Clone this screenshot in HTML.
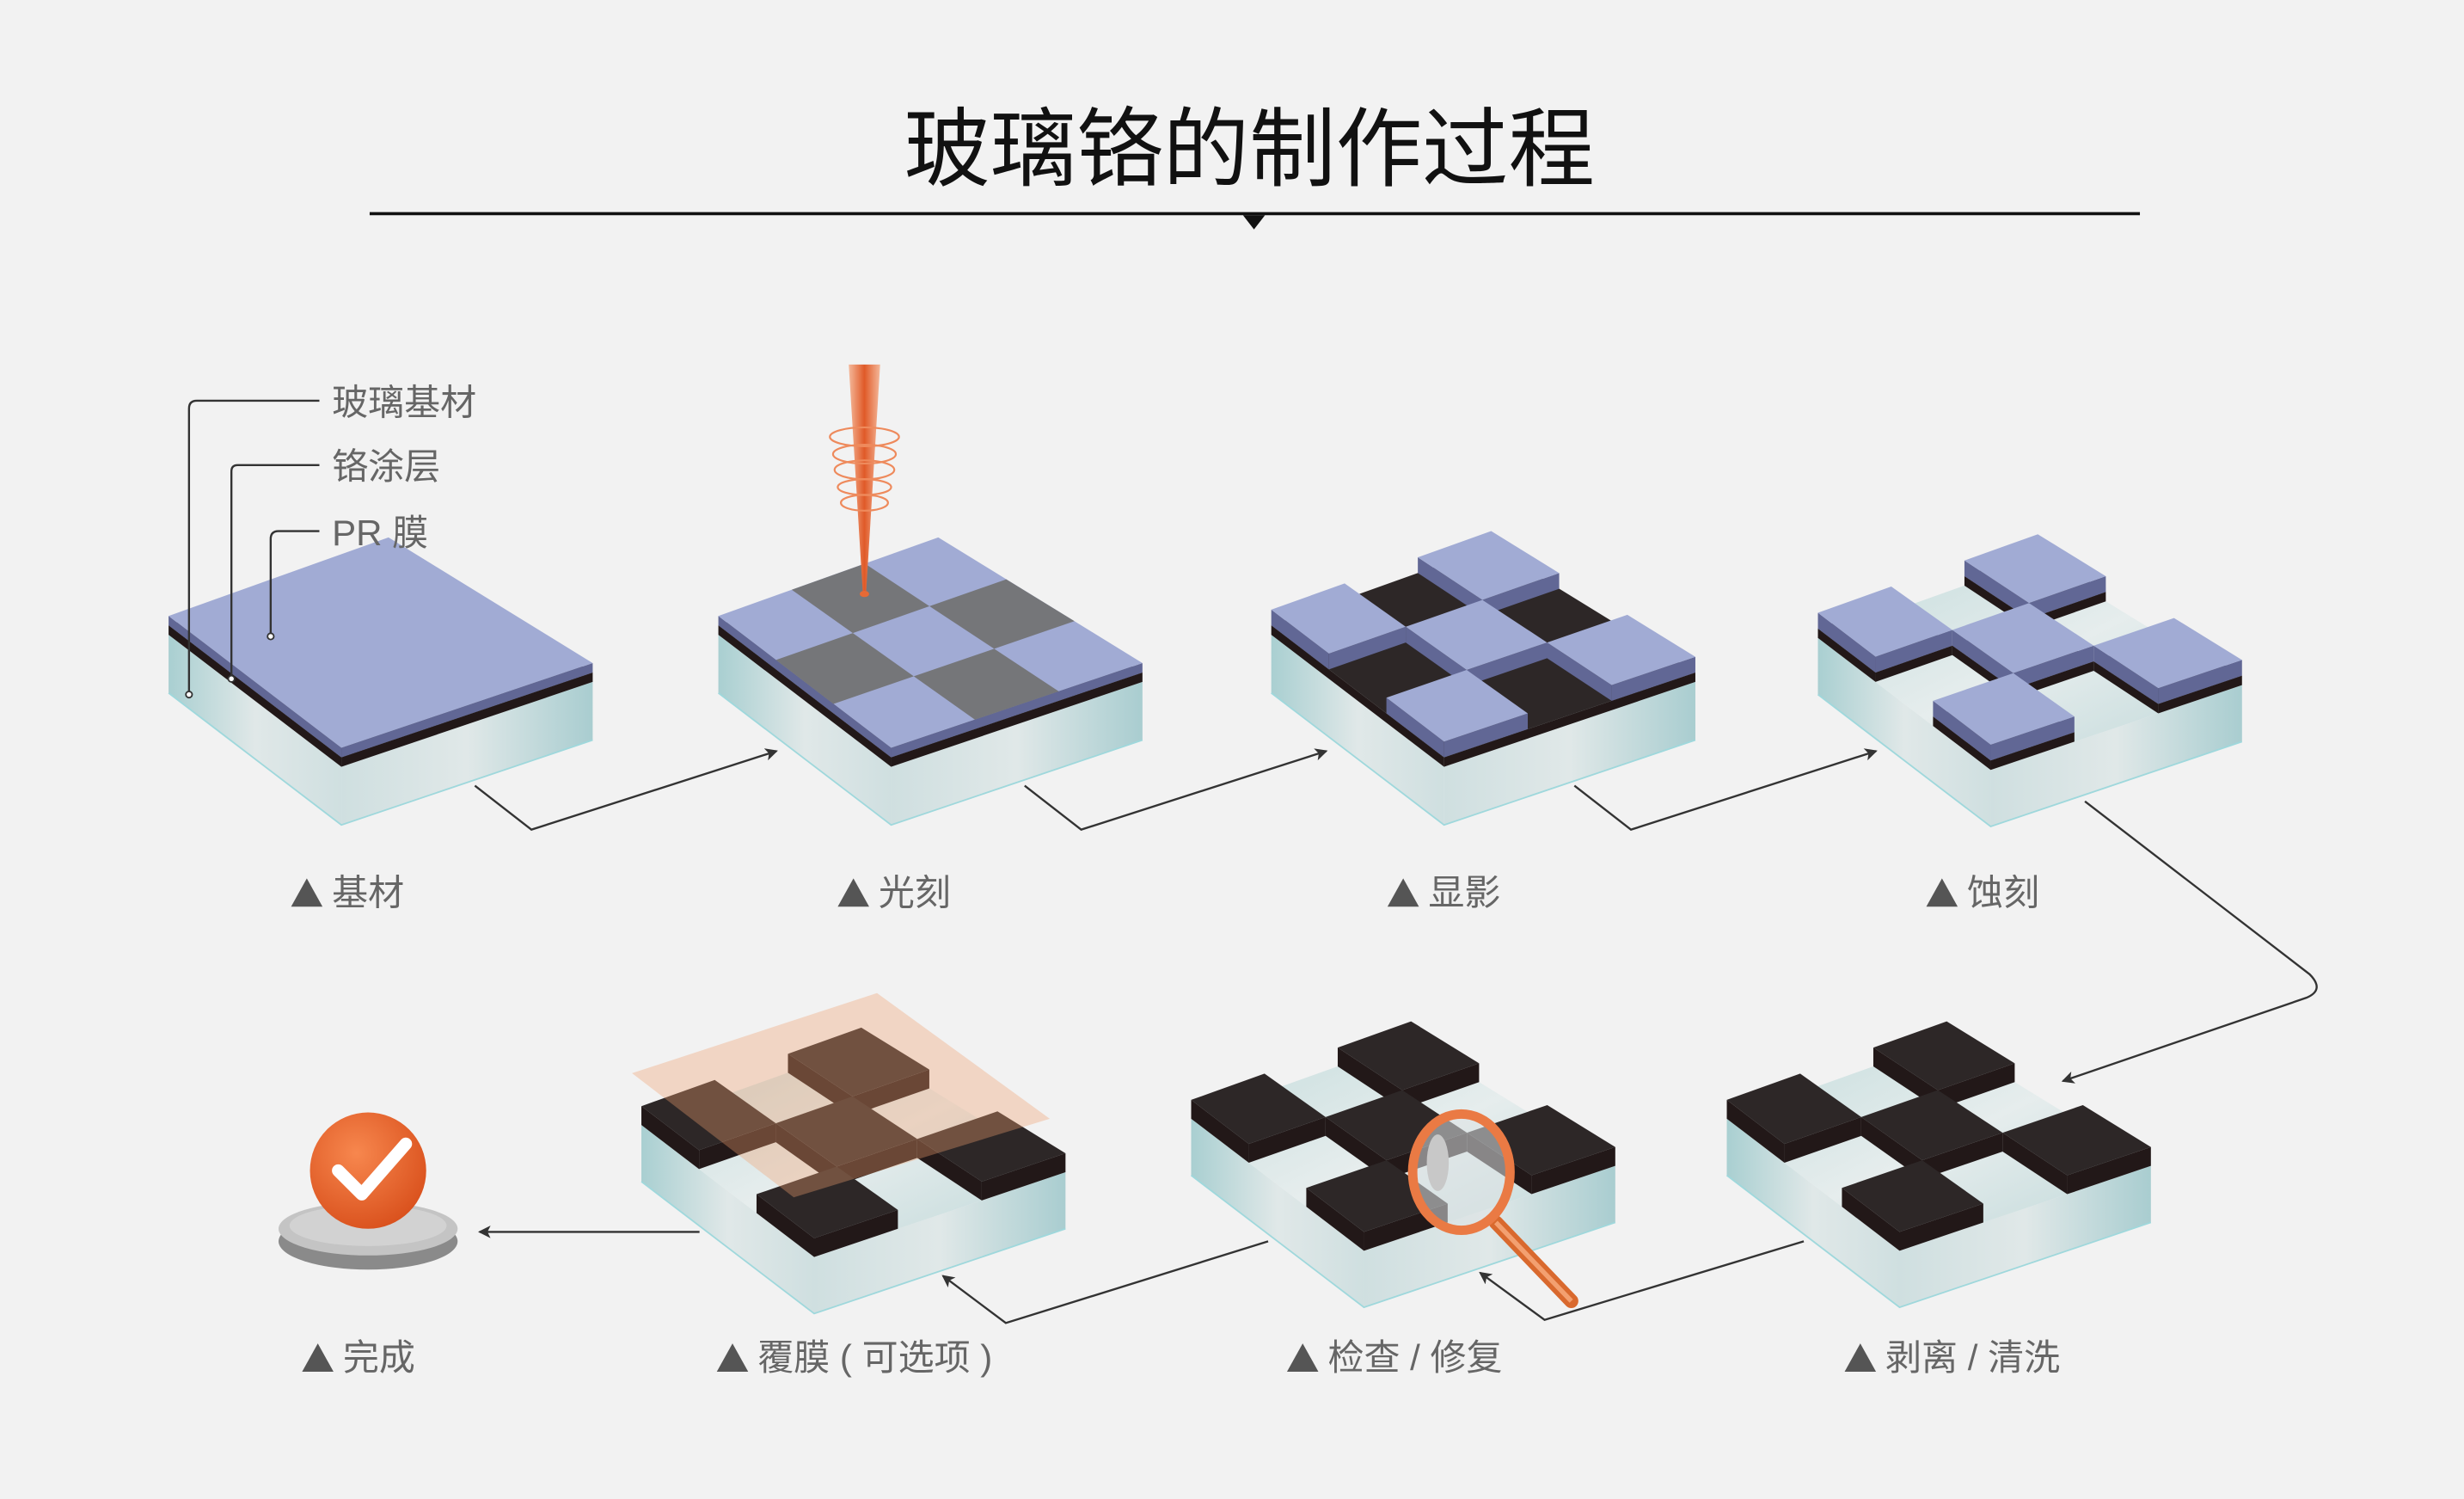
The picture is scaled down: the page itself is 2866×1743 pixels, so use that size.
<!DOCTYPE html>
<html><head><meta charset="utf-8"><style>
html,body{margin:0;padding:0;background:#f2f2f2;}
svg{display:block}
text{font-family:"Liberation Sans","Noto Sans CJK SC",sans-serif;}
</style></head><body>
<svg id="s" width="2866" height="1743" viewBox="0 0 1568 954" xmlns="http://www.w3.org/2000/svg">
<defs>
<linearGradient id="gl" x1="0" y1="0" x2="1" y2="0"><stop offset="0" stop-color="#a9cfd1"/><stop offset="0.5" stop-color="#e0e8e8"/><stop offset="1" stop-color="#cfdfe0"/></linearGradient>
<linearGradient id="gr" x1="0" y1="0" x2="1" y2="0"><stop offset="0" stop-color="#cfdfe0"/><stop offset="0.5" stop-color="#e0e8e8"/><stop offset="1" stop-color="#a9cdd0"/></linearGradient>
<linearGradient id="gt" x1="0" y1="0" x2="1" y2="1"><stop offset="0" stop-color="#c4dcdc"/><stop offset="0.5" stop-color="#e6eded"/><stop offset="1" stop-color="#bcd6d7"/></linearGradient>
<linearGradient id="beam" x1="0" y1="0" x2="1" y2="0"><stop offset="0" stop-color="#f4b89a"/><stop offset="0.5" stop-color="#e05a28"/><stop offset="1" stop-color="#f4b89a"/></linearGradient>
<radialGradient id="ball" cx="0.4" cy="0.35" r="0.7"><stop offset="0" stop-color="#f7874e"/><stop offset="1" stop-color="#d9501c"/></radialGradient>
<marker id="ar" markerWidth="8" markerHeight="8" refX="7" refY="4" orient="auto" markerUnits="userSpaceOnUse"><path d="M0,0 L8,4 L0,8 L2,4 z" fill="#333"/></marker>
</defs>
<rect width="1568" height="954" fill="#f2f2f2"/>
<g id="blocks"></g>
<!-- title -->
<text x="795" y="114" font-size="55" text-anchor="middle" fill="#111">玻璃铬的制作过程</text>
<line x1="235" y1="136" x2="1362" y2="136" stroke="#111" stroke-width="2"/>
<path d="M791,137 L805,137 L798,146 z" fill="#111"/>
<!-- legend -->
<g fill="none" stroke="#333" stroke-width="1.3">
<path d="M203,255 H125 Q120,255 120,260 V442"/>
<path d="M203,296 H151 Q147,296 147,300 V432"/>
<path d="M203,338 H177 Q172,338 172,343 V405"/>
</g>
<g fill="#fff" stroke="#333" stroke-width="1"><circle cx="120" cy="442" r="2"/><circle cx="147" cy="432" r="2"/><circle cx="172" cy="405" r="2"/></g>
<g font-size="23" fill="#666">
<text x="211" y="264">玻璃基材</text><text x="211" y="305">铬涂层</text><text x="211" y="347">PR 膜</text>
</g>
<!-- laser -->
<path d="M540,232 L560,232 L551,378 L549,378 z" fill="url(#beam)"/>
<g fill="none" stroke="#ee8a5c" stroke-width="1.2">
<ellipse cx="550" cy="278" rx="22" ry="6"/><ellipse cx="550" cy="289" rx="20" ry="6"/><ellipse cx="550" cy="299" rx="19" ry="6"/><ellipse cx="550" cy="310" rx="17" ry="5"/><ellipse cx="550" cy="320" rx="15" ry="5"/>
</g>
<ellipse cx="550" cy="378" rx="3" ry="2" fill="#e66a36"/>
<!-- connectors -->
<g fill="none" stroke="#333" stroke-width="1.3">
<path d="M302,500 L338,528 L494,478" marker-end="url(#ar)"/>
<path d="M652,500 L688,528 L844,478" marker-end="url(#ar)"/>
<path d="M1002,500 L1038,528 L1194,478" marker-end="url(#ar)"/>
<path d="M1327,510 L1470,620 Q1480,630 1468,635 L1313,688" marker-end="url(#ar)"/>
<path d="M1148,790 L983,840 L942,810" marker-end="url(#ar)"/>
<path d="M807,790 L640,842 L600,812" marker-end="url(#ar)"/>
<path d="M445,784 L305,784" marker-end="url(#ar)"/>
</g>
<!-- step labels -->
<g fill="#555">
<path d="M185,577 L195,559 L205,577 z"/><path d="M533,577 L543,559 L553,577 z"/><path d="M883,577 L893,559 L903,577 z"/><path d="M1226,577 L1236,559 L1246,577 z"/>
<path d="M192,873 L202,855 L212,873 z"/><path d="M456,873 L466,855 L476,873 z"/><path d="M819,873 L829,855 L839,873 z"/><path d="M1174,873 L1184,855 L1194,873 z"/>
</g>
<g font-size="23" fill="#666">
<text x="211" y="576">基材</text><text x="559" y="576">光刻</text><text x="909" y="576">显影</text><text x="1252" y="576">蚀刻</text>
<text x="218" y="872">完成</text><text x="482" y="872">覆膜 ( 可选项 )</text><text x="845" y="872">检查 / 修复</text><text x="1200" y="872">剥离 / 清洗</text>
</g>
<!-- done icon -->
<ellipse cx="234" cy="790" rx="57" ry="18" fill="#8a8a8a"/>
<ellipse cx="234" cy="782" rx="57" ry="17" fill="#c4c4c4"/>
<ellipse cx="234" cy="780" rx="50" ry="13" fill="#d2d2d2"/>
<circle cx="234" cy="745" r="37" fill="url(#ball)"/>
<path d="M215,745 L230,760 L258,728" fill="none" stroke="#fff" stroke-width="8" stroke-linecap="round" stroke-linejoin="round"/>
<g id="over"></g>
</svg>
<script>
var NS="http://www.w3.org/2000/svg";
var G=document.getElementById("blocks"),O=document.getElementById("over");
function poly(g,pts,fill,op){var p=document.createElementNS(NS,"polygon");p.setAttribute("points",pts.map(function(a){return a[0].toFixed(1)+","+a[1].toFixed(1)}).join(" "));p.setAttribute("fill",fill);if(op)p.setAttribute("opacity",op);g.appendChild(p);}
var L=[0,0],B=[140,-50],R=[270,30],F=[110,84];
function P(ox,oy,u,v,dy){var x=L[0]*(1-u)*(1-v)+B[0]*u*(1-v)+R[0]*u*v+F[0]*(1-u)*v;var y=L[1]*(1-u)*(1-v)+B[1]*u*(1-v)+R[1]*u*v+F[1]*(1-u)*v;return [ox+x,oy+y-(dy||0)];}
function prism(g,ox,oy,u0,u1,v0,v1,zb,zt,top,side1,side2){
 poly(g,[P(ox,oy,u0,v0,zt),P(ox,oy,u0,v1,zt),P(ox,oy,u0,v1,zb),P(ox,oy,u0,v0,zb)],side1);
 poly(g,[P(ox,oy,u0,v1,zt),P(ox,oy,u1,v1,zt),P(ox,oy,u1,v1,zb),P(ox,oy,u0,v1,zb)],side2);
 poly(g,[P(ox,oy,u0,v0,zt),P(ox,oy,u1,v0,zt),P(ox,oy,u1,v1,zt),P(ox,oy,u0,v1,zt)],top);
}
function cells(f){var a=[];for(var i=0;i<3;i++)for(var j=0;j<3;j++)a.push([i,j]);a.sort(function(p,q){return (q[0]-q[1])-(p[0]-p[1]);});a.forEach(function(c){f(c[0],c[1]);});}
var PT="#a1abd4",PS="#616795",BT="#2d2727",BS="#221818",GR="#757679";
function glass(g,ox,oy,h){prism(g,ox,oy,0,1,0,1,-h,0,"url(#gt)","url(#gl)","url(#gr)");
 var e=document.createElementNS(NS,"polyline");e.setAttribute("points",[P(ox,oy,0,0,-h),P(ox,oy,0,1,-h),P(ox,oy,1,1,-h)].map(function(a){return a.join(",")}).join(" "));e.setAttribute("fill","none");e.setAttribute("stroke","#9fd8dc");e.setAttribute("stroke-width","1");g.appendChild(e);}
(function(){var ox=107,oy=404;glass(G,ox,oy,37);prism(G,ox,oy,0,1,0,1,0,6,BT,BS,BS);prism(G,ox,oy,0,1,0,1,6,12,PT,PS,PS);})();
(function(){var ox=457,oy=404;glass(G,ox,oy,37);prism(G,ox,oy,0,1,0,1,0,6,BT,BS,BS);prism(G,ox,oy,0,1,0,1,6,12,PT,PS,PS);
 cells(function(i,j){if((i+j)%2)poly(G,[P(ox,oy,i/3,j/3,12),P(ox,oy,(i+1)/3,j/3,12),P(ox,oy,(i+1)/3,(j+1)/3,12),P(ox,oy,i/3,(j+1)/3,12)],GR);});})();
(function(){var ox=809,oy=404;glass(G,ox,oy,37);prism(G,ox,oy,0,1,0,1,0,6,BT,BS,BS);
 cells(function(i,j){if((i+j)%2==0)prism(G,ox,oy,i/3,(i+1)/3,j/3,(j+1)/3,6,16,PT,PS,PS);});})();
(function(){var ox=1157,oy=406;glass(G,ox,oy,36);
 cells(function(i,j){if((i+j)%2==0){prism(G,ox,oy,i/3,(i+1)/3,j/3,(j+1)/3,0,6,BT,BS,BS);prism(G,ox,oy,i/3,(i+1)/3,j/3,(j+1)/3,6,16,PT,PS,PS);}});})();
function chrome(ox,oy){glass(G,ox,oy,36);cells(function(i,j){if((i+j)%2==0)prism(G,ox,oy,i/3,(i+1)/3,j/3,(j+1)/3,0,12,BT,BS,BS);});}
chrome(1099,712);chrome(758,712);chrome(408,716);
poly(O,[[402,683],[558,632],[668,712],[505,762]],"#f0a070","0.35");
(function(){var g=O;
 var h=document.createElementNS(NS,"path");h.setAttribute("d","M952,778 L1000,828");h.setAttribute("stroke","#d9692e");h.setAttribute("stroke-width","9");h.setAttribute("stroke-linecap","round");g.appendChild(h);
 var h2=document.createElementNS(NS,"path");h2.setAttribute("d","M952,778 L1000,828");h2.setAttribute("stroke","#f3a070");h2.setAttribute("stroke-width","3");g.appendChild(h2);
 var c=document.createElementNS(NS,"ellipse");c.setAttribute("cx","930");c.setAttribute("cy","746");c.setAttribute("rx","31");c.setAttribute("ry","37");c.setAttribute("fill","rgba(220,225,228,0.55)");c.setAttribute("stroke","#ea7a44");c.setAttribute("stroke-width","6");g.appendChild(c);
 var s=document.createElementNS(NS,"ellipse");s.setAttribute("cx","915");s.setAttribute("cy","740");s.setAttribute("rx","7");s.setAttribute("ry","18");s.setAttribute("fill","#c8c8c8");g.appendChild(s);
})();
</script>
</body></html>
